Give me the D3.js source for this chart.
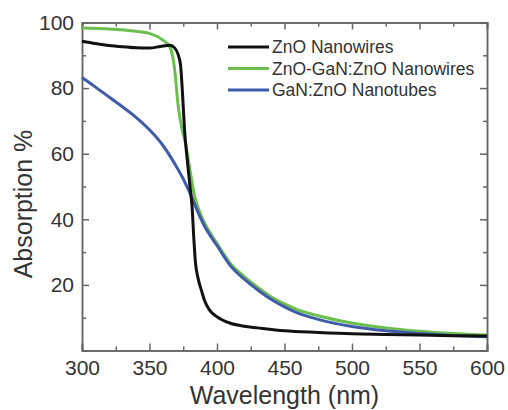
<!DOCTYPE html>
<html>
<head>
<meta charset="utf-8">
<script src="https://cdn.jsdelivr.net/npm/d3@7"></script>
<style>
  body { margin: 0; background: #fff; }
  svg { display: block; }
  text { font-family: "Liberation Sans", Arial, sans-serif; fill: #333; }
</style>
</head>
<body>
<div id="chart"></div>
<script>
// Datos (longitud de onda en nm, absorcion en %)
const znoWl = [300, 310, 320, 330, 340, 350, 358, 365, 368, 371, 373, 374.5, 376, 378, 380, 381.5, 383, 384, 386, 388.4, 391, 394.5, 400, 404, 410, 420, 430, 450, 475, 500, 525, 550, 575, 600];
const znoAbs = [94.3, 93.6, 93.0, 92.6, 92.3, 92.2, 92.7, 93.1, 92.5, 90.5, 87, 78, 67, 58, 50, 44, 33, 27, 22, 18.4, 15, 12.3, 10.3, 9.3, 8.3, 7.4, 6.9, 6.0, 5.5, 5.1, 4.9, 4.7, 4.5, 4.4];

const hetWl = [300, 320, 340, 350, 360, 365, 368.7, 371, 374.8, 376, 380, 383.5, 386, 390, 400, 410, 420, 430, 440, 450, 460, 475, 500, 525, 550, 575, 600];
const hetAbs = [98.3, 98.0, 97.3, 96.7, 94.6, 92.6, 85.5, 75.5, 66.3, 64.5, 55, 46.9, 43.5, 39.5, 32.6, 26.5, 22.6, 19.3, 16.4, 14.2, 12.4, 10.6, 8.4, 6.9, 5.9, 5.2, 4.7];

const tubeWl = [300, 310, 320, 330, 340, 350, 360, 370, 375, 380, 385, 390, 400, 410, 420, 430, 440, 450, 460, 475, 500, 525, 550, 575, 600];
const tubeAbs = [83.2, 80.3, 77.3, 74.3, 71.1, 67.3, 62.5, 56, 52.3, 48, 43, 38.5, 32, 25.8, 21.8, 18.5, 15.6, 13.3, 11.4, 9.5, 7.3, 6.0, 5.2, 4.6, 4.2];

const seriesNames = ["ZnO Nanowires", "ZnO-GaN:ZnO Nanowires", "GaN:ZnO Nanotubes"];
const seriesColors = ["#111111", "#6cbf4e", "#3f5caa"];

const xTicks = [300, 350, 400, 450, 500, 550, 600];
const xMinor = [325, 375, 425, 475, 525, 575];
const yTicks = [20, 40, 60, 80, 100];
const yMinor = [10, 30, 50, 70, 90];

const width = 508;
const height = 410;
const margin = { top: 22.5, right: 21, bottom: 59.5, left: 82 };
const w = width - margin.left - margin.right;
const h = height - margin.top - margin.bottom;

const svg = d3.select('#chart').append('svg')
  .attr('width', width)
  .attr('height', height);

const g = svg.append('g')
  .attr('transform', `translate(${margin.left},${margin.top})`);

const x = d3.scaleLinear().domain([300, 600]).range([0, w]);
const y = d3.scaleLinear().domain([0, 100]).range([h, 0]);

// Ejes (marcas hacia dentro)
function styleAxis(sel) {
  sel.select('.domain').attr('stroke', '#666').attr('stroke-width', 1.5);
  sel.selectAll('.tick line').attr('stroke', '#666').attr('stroke-width', 1.5);
  sel.selectAll('text').style('font-size', '21px').attr('fill', '#333')
    .style('font-family', '"Liberation Sans", Arial, sans-serif');
}

g.append('g').attr('transform', `translate(0,${h})`)
  .call(d3.axisBottom(x).tickValues(xTicks).tickSize(-7).tickPadding(9.5).tickFormat(d3.format('d')))
  .call(styleAxis);
g.append('g').attr('transform', `translate(0,${h})`)
  .call(d3.axisBottom(x).tickValues(xMinor).tickSize(-4).tickFormat(''))
  .call(styleAxis);

g.append('g')
  .call(d3.axisTop(x).tickValues(xTicks).tickSize(-7).tickFormat(''))
  .call(styleAxis);
g.append('g')
  .call(d3.axisTop(x).tickValues(xMinor).tickSize(-4).tickFormat(''))
  .call(styleAxis);

g.append('g')
  .call(d3.axisLeft(y).tickValues(yTicks).tickSize(-7).tickPadding(8))
  .call(styleAxis);
g.append('g')
  .call(d3.axisLeft(y).tickValues(yMinor).tickSize(-4).tickFormat(''))
  .call(styleAxis);

g.append('g').attr('transform', `translate(${w},0)`)
  .call(d3.axisRight(y).tickValues(yTicks).tickSize(-7).tickFormat(''))
  .call(styleAxis);
g.append('g').attr('transform', `translate(${w},0)`)
  .call(d3.axisRight(y).tickValues(yMinor).tickSize(-4).tickFormat(''))
  .call(styleAxis);

// Curvas
const series = [
  { name: seriesNames[0], color: seriesColors[0], wl: znoWl, v: znoAbs },
  { name: seriesNames[1], color: seriesColors[1], wl: hetWl, v: hetAbs },
  { name: seriesNames[2], color: seriesColors[2], wl: tubeWl, v: tubeAbs }
];

const line = d3.line()
  .x(d => x(d[0]))
  .y(d => y(d[1]))
  .curve(d3.curveMonotoneX);

// dibujar verde primero, luego azul, luego negro encima
[1, 2, 0].forEach(i => {
  const s = series[i];
  g.append('path')
    .datum(s.wl.map((wl, j) => [wl, s.v[j]]))
    .attr('fill', 'none')
    .attr('stroke', s.color)
    .attr('stroke-width', 3)
    .attr('stroke-linejoin', 'round')
    .attr('d', line);
});

// Leyenda
const legend = svg.append('g').attr('transform', 'translate(228,47)');
series.forEach((s, i) => {
  const row = legend.append('g').attr('transform', `translate(0,${i * 21.5})`);
  row.append('line')
    .attr('x1', 0).attr('x2', 41)
    .attr('y1', 0).attr('y2', 0)
    .attr('stroke', s.color)
    .attr('stroke-width', 3);
  row.append('text')
    .attr('x', 44)
    .attr('dy', '0.35em')
    .style('font-size', '17.5px')
    .text(s.name);
});

// Titulos de los ejes
svg.append('text')
  .attr('x', margin.left + w / 2)
  .attr('y', 404)
  .attr('text-anchor', 'middle')
  .style('font-size', '25px')
  .text('Wavelength (nm)');

svg.append('text')
  .attr('transform', 'rotate(-90)')
  .attr('x', -204)
  .attr('y', 32)
  .attr('text-anchor', 'middle')
  .style('font-size', '25px')
  .text('Absorption %');
</script>
</body>
</html>
